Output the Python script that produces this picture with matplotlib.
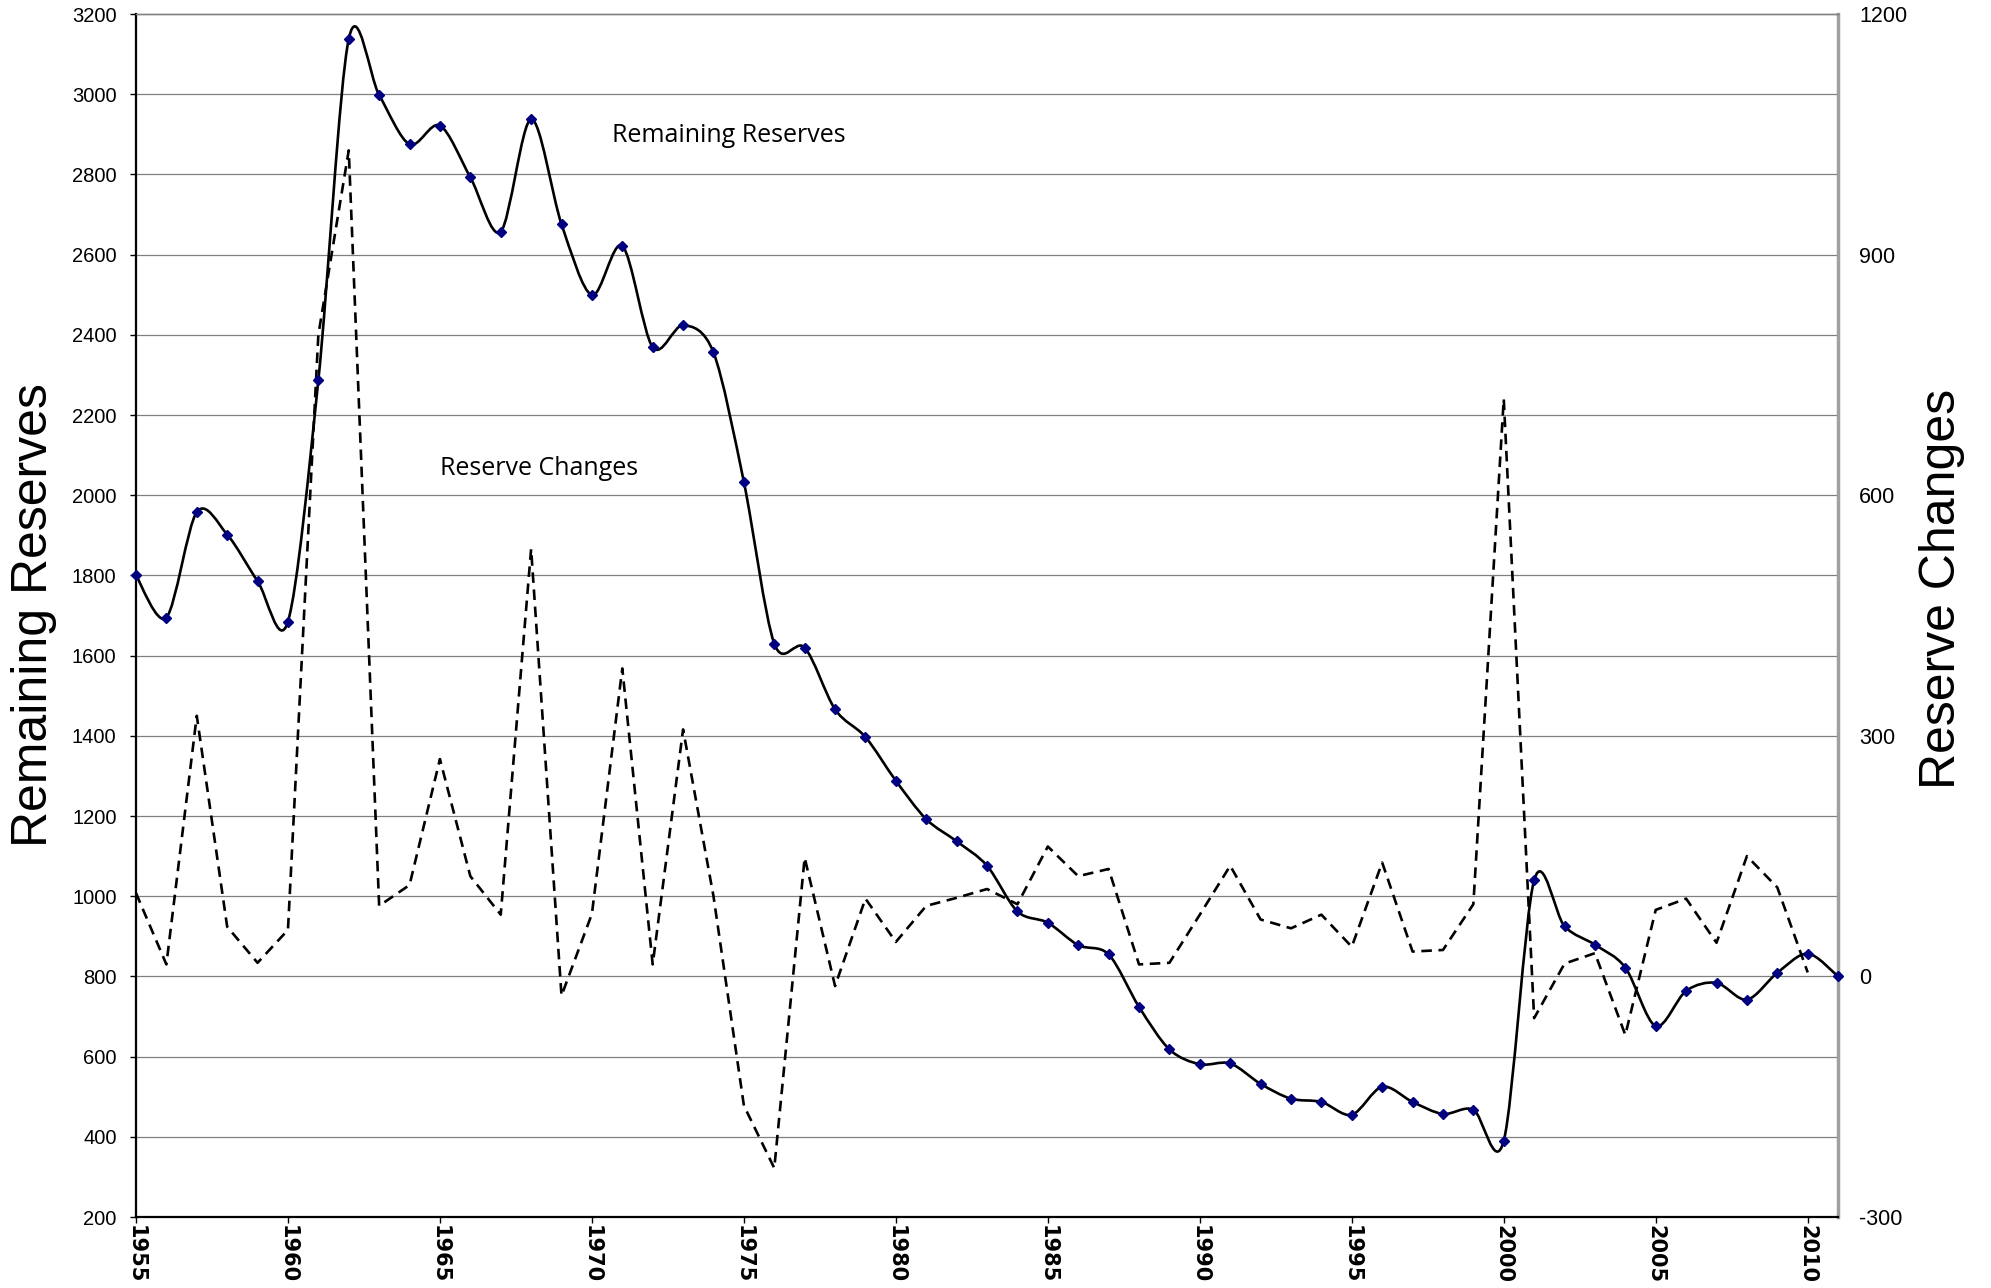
import matplotlib.pyplot as plt
from matplotlib.path import Path
from matplotlib.patches import PathPatch
import numpy as np

plt.rcParams['axes.unicode_minus'] = False

# remaining reserves (left axis), 1955-2011
years = list(range(1955, 2012))
remaining = [1800, 1695, 1958, 1902, 1786, 1685, 2287, 3138, 2998, 2875,
             2922, 2793, 2657, 2938, 2676, 2499, 2622, 2369, 2424, 2356,
             2033, 1630, 1620, 1466, 1397, 1288, 1192, 1137, 1076, 962,
             934, 878, 855, 724, 618, 581, 583, 532, 495, 487,
             455, 525, 487, 457, 468, 390, 1040, 925, 879, 822,
             676, 764, 784, 742, 809, 857, 800]

# reserve changes (right axis), 1955-2010
change_years = list(range(1955, 2011))
changes = [104, 15, 325, 62, 17, 58, 800, 1030, 88, 114,
           271, 125, 77, 533, -24, 78, 384, 15, 308, 100,
           -161, -239, 148, -12, 97, 43, 88, 98, 109, 90,
           162, 125, 134, 15, 17, 77, 138, 71, 60, 77,
           37, 142, 31, 33, 90, 720, -52, 16, 29, -73,
           83, 97, 42, 150, 111, 5]

xticks = list(range(1955, 2011, 5))
left_ticks = list(range(200, 3201, 200))
right_ticks = list(range(-300, 1201, 300))


def smooth_path(x, y):
    # Excel-style smoothed line: cubic bezier through every point
    pts = np.column_stack([np.asarray(x, float), np.asarray(y, float)])
    p = np.vstack([pts[0], pts, pts[-1]])
    verts = [pts[0]]
    codes = [Path.MOVETO]
    for i in range(len(pts) - 1):
        p0, p1, p2, p3 = p[i], p[i + 1], p[i + 2], p[i + 3]
        verts += [p1 + (p2 - p0) / 6.5, p2 - (p3 - p1) / 6.5, p2]
        codes += [Path.CURVE4] * 3
    return Path(verts, codes)


fig = plt.figure(figsize=(19.91, 12.88), dpi=100)
ax = fig.add_axes([0.0683, 0.0551, 0.8549, 0.9340])
ax2 = ax.twinx()
# left axis drawn over the right one so the solid line sits on top
ax.set_zorder(ax2.get_zorder() + 1)
ax.patch.set_visible(False)

ax.set_xlim(1955, 2011)
ax.set_ylim(200, 3200)
ax2.set_ylim(-300, 1200)

ax.set_yticks(left_ticks)
ax.set_xticks(xticks)
ax2.set_yticks(right_ticks)

ax2.grid(False)
for v in left_ticks[1:-1]:
    ax2.axhline((v - 200) / 2 - 300, color='#808080', lw=0.9, zorder=0)

# reserve changes, dashed
ax2.plot(change_years, changes, color='black', lw=1.9, dashes=(4, 2.5), zorder=2)

# remaining reserves, smoothed with diamonds
ax.add_patch(PathPatch(smooth_path(years, remaining), facecolor='none',
                       edgecolor='black', lw=1.9, zorder=3))
ax.plot(years, remaining, linestyle='none', marker='D', ms=5, color='#000080',
        zorder=4, clip_on=False)

ax.text(1970.66, 2882, 'Remaining Reserves', fontsize=18, family='Open Sans', va='baseline')
ax.text(1965.0, 2050, 'Reserve Changes', fontsize=18, family='Open Sans', va='baseline')

ax.tick_params(axis='y', direction='out', length=4, width=1, pad=10,
               labelsize=14.5, labelfontfamily='Liberation Sans')
ax.tick_params(axis='x', direction='out', length=4, width=1, pad=2)
for lab in ax.get_xticklabels():
    lab.set_rotation(-90)
    lab.set_family('DejaVu Sans')
    lab.set_weight('bold')
    lab.set_fontsize(15)
ax2.tick_params(axis='y', length=0, pad=15, labelsize=15.5,
                labelfontfamily='Liberation Sans')

for a in (ax, ax2):
    a.spines['top'].set_color('#808080')
    a.spines['top'].set_linewidth(1)
    a.spines['right'].set_visible(False)
ax.spines['left'].set_linewidth(1.6)
ax.spines['bottom'].set_linewidth(1.6)
ax2.spines['left'].set_visible(False)
ax2.spines['bottom'].set_visible(False)
ax2.spines['right'].set_visible(True)
ax2.spines['right'].set_color('#a0a0a0')
ax2.spines['right'].set_linewidth(2.5)

ax.set_ylabel('Remaining Reserves', fontsize=36, family='Liberation Sans')
ax.yaxis.set_label_coords(-0.0464, 0.5)
ax2.set_ylabel('Reserve Changes', fontsize=36, family='Liberation Sans')
ax2.yaxis.set_label_coords(1.0476, 0.522)

fig.savefig('out.png', dpi=100, facecolor='white')
